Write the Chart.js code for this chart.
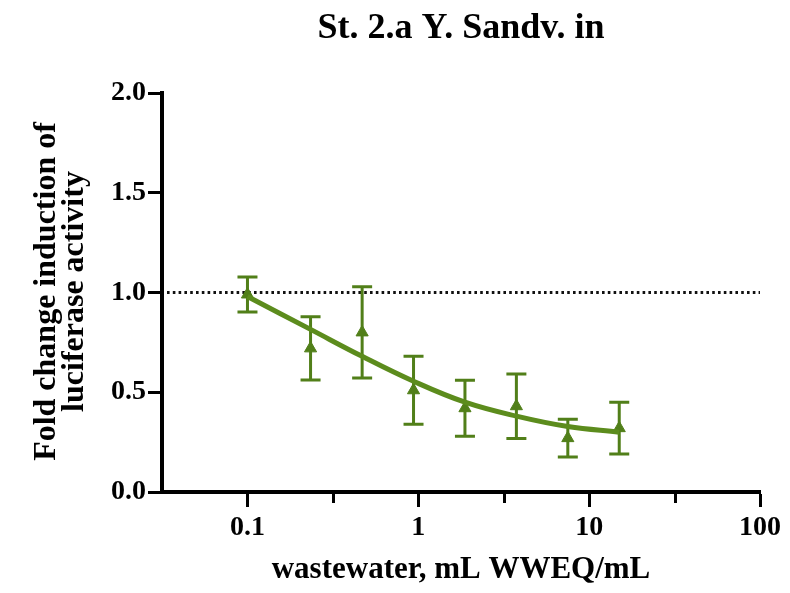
<!DOCTYPE html>
<html><head><meta charset="utf-8">
<script src="https://cdn.jsdelivr.net/npm/chart.js@4/dist/chart.umd.min.js"></script>
<style>html,body{margin:0;padding:0;background:#fff}#wrap{width:790px;height:593px}</style>
</head><body><div id="wrap"><canvas id="c" width="790" height="593"></canvas></div>
<script>
const chartTitle = 'St. 2.a Y. Sandv. in';
const xTitle = 'wastewater, mL WWEQ/mL';
const yTitleLines = ['Fold change induction of', 'luciferase activity'];
const doses = [0.1, 0.234, 0.469, 0.9375, 1.875, 3.75, 7.5, 15];
const meanFold = [0.99, 0.72, 0.80, 0.51, 0.42, 0.43, 0.27, 0.32];
const errFold = [0.088, 0.158, 0.229, 0.17, 0.14, 0.162, 0.095, 0.13];
const fitFold = [0.98, 0.815, 0.68, 0.555, 0.45, 0.38, 0.328, 0.30];
const xMajorTicks = [0.1, 1, 10, 100];
const xTickLabels = ['0.1', '1', '10', '100'];
const xMinorTicks = [0.316, 3.16, 31.6];
const xRange = [0.0316, 100];
const yTicks = [0, 0.5, 1, 1.5, 2];
const yTickLabels = ['0.0', '0.5', '1.0', '1.5', '2.0'];
const referenceLevel = 1.0;

const GREEN = '#5c8c1d';
const GREEN_DARK = '#517f19';
const FONT = "'Liberation Serif', 'Times New Roman', serif";

const overlay = {
  id: 'overlay',
  beforeDatasetsDraw(chart) {
    const ctx = chart.ctx, xs = chart.scales.x, ys = chart.scales.y, ca = chart.chartArea;
    ctx.save();
    const yr = ys.getPixelForValue(referenceLevel);
    ctx.strokeStyle = '#111';
    ctx.lineWidth = 3;
    ctx.setLineDash([2.6, 3.2]);
    ctx.beginPath();
    ctx.moveTo(ca.left + 5, yr);
    ctx.lineTo(ca.right, yr);
    ctx.stroke();
    ctx.setLineDash([]);
    ctx.strokeStyle = GREEN_DARK;
    ctx.lineWidth = 3;
    doses.forEach((d, i) => {
      const px = xs.getPixelForValue(d);
      const top = ys.getPixelForValue(meanFold[i] + errFold[i]);
      const bot = ys.getPixelForValue(meanFold[i] - errFold[i]);
      ctx.beginPath();
      ctx.moveTo(px, top); ctx.lineTo(px, bot);
      ctx.moveTo(px - 10, top); ctx.lineTo(px + 10, top);
      ctx.moveTo(px - 10, bot); ctx.lineTo(px + 10, bot);
      ctx.stroke();
    });
    ctx.restore();
  },
  afterDraw(chart) {
    const ctx = chart.ctx, xs = chart.scales.x, ca = chart.chartArea;
    ctx.save();
    ctx.strokeStyle = '#000';
    ctx.lineWidth = 3;
    xMinorTicks.forEach(v => {
      const px = Math.round(xs.getPixelForValue(v)) + 0.5;
      ctx.beginPath();
      ctx.moveTo(px, ca.bottom);
      ctx.lineTo(px, ca.bottom + 11);
      ctx.stroke();
    });
    ctx.fillStyle = '#000';
    ctx.font = 'bold 36px ' + FONT;
    ctx.textAlign = 'center';
    ctx.textBaseline = 'alphabetic';
    ctx.fillText(chartTitle, (ca.left + ca.right) / 2, 38);
    ctx.font = 'bold 31px ' + FONT;
    ctx.fillText(xTitle, (ca.left + ca.right) / 2, 578);
    ctx.font = 'bold 32px ' + FONT;
    const cy = (ca.top + ca.bottom) / 2 - 1;
    const baselines = [55, 83];
    yTitleLines.forEach((t, i) => {
      ctx.save();
      ctx.translate(baselines[i], cy);
      ctx.rotate(-Math.PI / 2);
      ctx.fillText(t, 0, 0);
      ctx.restore();
    });
    ctx.restore();
  }
};

new Chart(document.getElementById('c'), {
  type: 'line',
  data: {
    datasets: [
      {
        label: 'fit',
        data: doses.map((d, i) => ({ x: d, y: fitFold[i] })),
        borderColor: GREEN,
        borderWidth: 5,
        pointRadius: 0,
        tension: 0.4,
        fill: false,
        order: 0
      },
      {
        label: 'mean',
        data: doses.map((d, i) => ({ x: d, y: meanFold[i] })),
        showLine: false,
        pointStyle: 'triangle',
        pointRadius: 7,
        backgroundColor: GREEN_DARK,
        borderColor: GREEN_DARK,
        borderWidth: 1,
        order: 1
      }
    ]
  },
  options: {
    responsive: false,
    animation: false,
    layout: { padding: { left: 0, right: 30, top: 93, bottom: 51 } },
    plugins: { legend: { display: false }, tooltip: { enabled: false }, title: { display: false } },
    scales: {
      x: {
        type: 'logarithmic',
        position: 'bottom',
        min: xRange[0],
        max: xRange[1],
        afterBuildTicks: s => { s.ticks = xMajorTicks.map(v => ({ value: v })); },
        afterFit: s => { s.height = 50; },
        ticks: {
          autoSkip: false, maxRotation: 0, minRotation: 0, padding: 4,
          color: '#000',
          font: { family: FONT, size: 28, weight: 'bold' },
          callback: v => { const k = xMajorTicks.indexOf(v); return k >= 0 ? xTickLabels[k] : ''; }
        },
        grid: { drawOnChartArea: false, drawTicks: true, tickLength: 15, tickWidth: 3, tickColor: '#000' },
        border: { display: true, color: '#000', width: 4 }
      },
      y: {
        type: 'linear',
        min: 0, max: 2,
        afterBuildTicks: s => { s.ticks = yTicks.map(v => ({ value: v })); },
        afterFit: s => { s.width = 162; },
        ticks: {
          padding: 2, color: '#000',
          font: { family: FONT, size: 28, weight: 'bold' },
          callback: v => { const k = yTicks.indexOf(v); return k >= 0 ? yTickLabels[k] : ''; }
        },
        grid: { drawOnChartArea: false, drawTicks: true, tickLength: 14, tickWidth: 3, tickColor: '#000' },
        border: { display: true, color: '#000', width: 4 }
      }
    }
  },
  plugins: [overlay]
});
</script></body></html>
